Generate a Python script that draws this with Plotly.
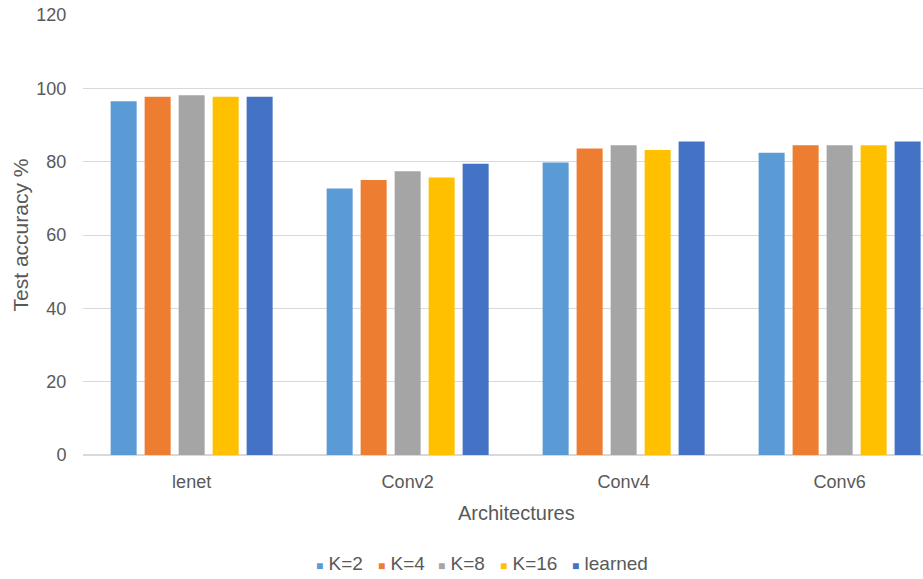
import plotly.graph_objects as go

categories = ["lenet", "Conv2", "Conv4", "Conv6"]
series_names = ["K=2", "K=4", "K=8", "K=16", "learned"]
k2 = [96.5, 72.7, 79.8, 82.4]
k4 = [97.7, 75.0, 83.6, 84.5]
k8 = [98.1, 77.4, 84.5, 84.5]
k16 = [97.7, 75.7, 83.2, 84.5]
learned = [97.7, 79.4, 85.5, 85.5]
colors = ["#5B9BD5", "#ED7D31", "#A5A5A5", "#FFC000", "#4472C4"]
yticks = [0, 20, 40, 60, 80, 100, 120]
# legend item left edges (pixels) for the manual legend
legend_px = [314, 376, 436, 498, 570]

W, H = 923, 579
L, R, T, B = 83, 0, 15, 124
PW, PH = W - L - R, H - T - B
font_color = "#595959"

fig = go.Figure()
for name, vals, c in zip(series_names, [k2, k4, k8, k16, learned], colors):
    fig.add_trace(go.Bar(name=name, x=categories, y=vals, marker_color=c,
                         marker_line_width=0, showlegend=False))

annotations = []
for name, c, px in zip(series_names, colors, legend_px):
    annotations.append(dict(
        text=f"<span style='color:{c};font-size:12px'>■</span> {name}",
        x=(px - L) / PW, xref="paper", xanchor="left",
        y=(H - B - 563) / PH, yref="paper", yanchor="middle",
        showarrow=False, font=dict(size=19, color=font_color),
    ))
# x-axis title (centred on the full, partly cropped, plot area)
annotations.append(dict(
    text="Architectures", x=(516 - L) / PW, xref="paper", xanchor="center",
    y=(H - B - 513) / PH, yref="paper", yanchor="middle",
    showarrow=False, font=dict(size=20, color=font_color),
))

fig.update_layout(
    width=W, height=H,
    margin=dict(l=L, r=R, t=T, b=B),
    paper_bgcolor="white", plot_bgcolor="white",
    barmode="group", bargap=0.213, bargroupgap=0.235,
    font=dict(family="Liberation Sans, Arial, sans-serif", size=18, color=font_color),
    showlegend=False,
    annotations=annotations,
    xaxis=dict(range=[-0.503, 3.386], showgrid=False, showline=False, zeroline=False,
               ticks="outside", ticklen=10, tickcolor="rgba(0,0,0,0)",
               tickfont=dict(size=18, color=font_color), automargin=False),
    yaxis=dict(range=[0, 120], tickvals=yticks, showgrid=True, gridcolor="#D9D9D9",
               gridwidth=1, zeroline=True, zerolinecolor="#D9D9D9", showline=False,
               ticks="outside", ticklen=12, tickcolor="rgba(0,0,0,0)",
               tickfont=dict(size=18, color=font_color), automargin=False,
               title=dict(text="Test accuracy %", font=dict(size=21, color=font_color), standoff=2)),
)

fig.write_html("out.html")
